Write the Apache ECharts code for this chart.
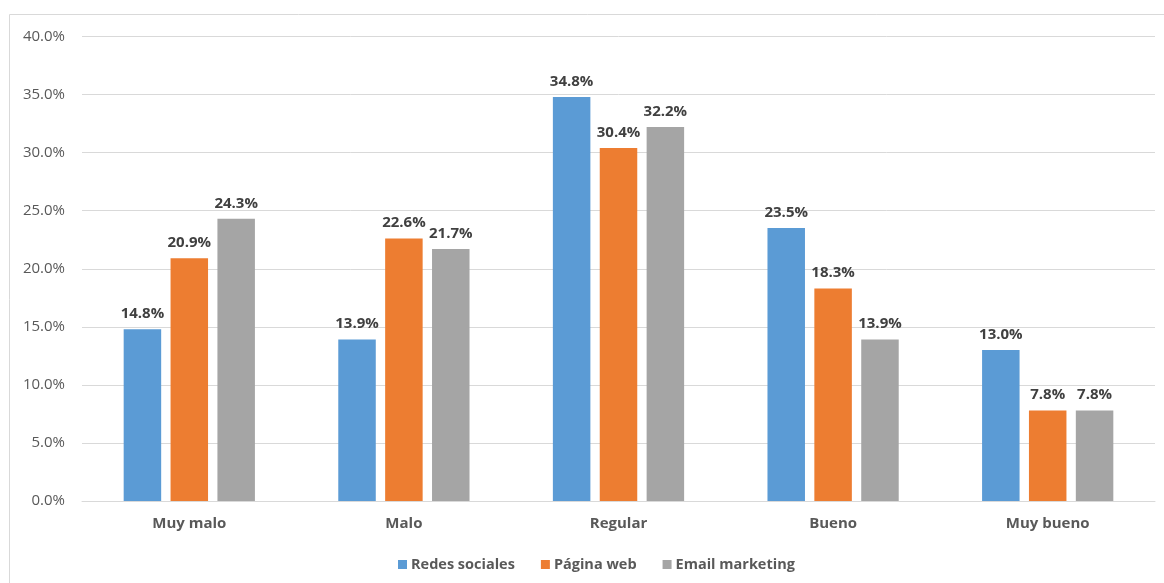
<!DOCTYPE html>
<html>
<head>
<meta charset="utf-8">
<script src="https://cdn.jsdelivr.net/npm/echarts@6/dist/echarts.min.js"></script>
<style>
  html, body { margin: 0; padding: 0; background: #fff; }
  #chart { width: 1164px; height: 583px; }
</style>
</head>
<body>
<div id="chart"></div>
<script>
// Survey ratings per channel (percent of respondents)
const categories = ['Muy malo', 'Malo', 'Regular', 'Bueno', 'Muy bueno'];
const seriesNames = ['Redes sociales', 'Página web', 'Email marketing'];
const redesSociales = [14.8, 13.9, 34.8, 23.5, 13.0];
const paginaWeb = [20.9, 22.6, 30.4, 18.3, 7.8];
const emailMarketing = [24.3, 21.7, 32.2, 13.9, 7.8];
const colors = ['#5B9BD5', '#ED7D31', '#A5A5A5'];

const FONT = '"Open Sans", "Liberation Sans", sans-serif';
const chart = echarts.init(document.getElementById('chart'), null, { renderer: 'canvas' });

const mkSeries = (name, data, color) => ({
  name: name,
  type: 'bar',
  data: data,
  barWidth: 37.5,
  barGap: '25%',
  itemStyle: { color: color },
  label: {
    show: true,
    position: 'top',
    distance: 8,
    formatter: p => p.value.toFixed(1) + '%',
    color: '#404040',
    fontFamily: FONT,
    fontWeight: 'bold',
    fontSize: 15
  }
});

chart.setOption({
  animation: false,
  textStyle: { fontFamily: FONT },
  graphic: [{
    type: 'rect',
    shape: { x: 9.5, y: 14.5, width: 1200, height: 700 },
    style: { fill: 'none', stroke: '#D9D9D9', lineWidth: 1 },
    silent: true
  }],
  grid: { left: 82, right: 9, top: 36.5, bottom: 82 },
  legend: {
    bottom: 11,
    left: 398,
    padding: 0,
    itemWidth: 9,
    itemHeight: 9,
    itemGap: 26,
    icon: 'rect',
    textStyle: { color: '#595959', fontFamily: FONT, fontWeight: 'bold', fontSize: 14.5, padding: [0, 0, 0, -1] },
    data: seriesNames
  },
  xAxis: {
    type: 'category',
    data: categories,
    axisLine: { lineStyle: { color: '#D9D9D9', width: 1 } },
    axisTick: { show: false },
    axisLabel: { color: '#595959', fontFamily: FONT, fontWeight: 'bold', fontSize: 15, margin: 15 }
  },
  yAxis: {
    type: 'value',
    min: 0,
    max: 40,
    interval: 5,
    axisLine: { show: false },
    axisTick: { show: false },
    splitLine: { lineStyle: { color: '#D9D9D9', width: 1 } },
    axisLabel: {
      color: '#595959',
      fontFamily: FONT,
      fontSize: 15,
      margin: 17,
      formatter: v => v.toFixed(1) + '%'
    }
  },
  series: [
    mkSeries(seriesNames[0], redesSociales, colors[0]),
    mkSeries(seriesNames[1], paginaWeb, colors[1]),
    mkSeries(seriesNames[2], emailMarketing, colors[2])
  ]
});
</script>
</body>
</html>
